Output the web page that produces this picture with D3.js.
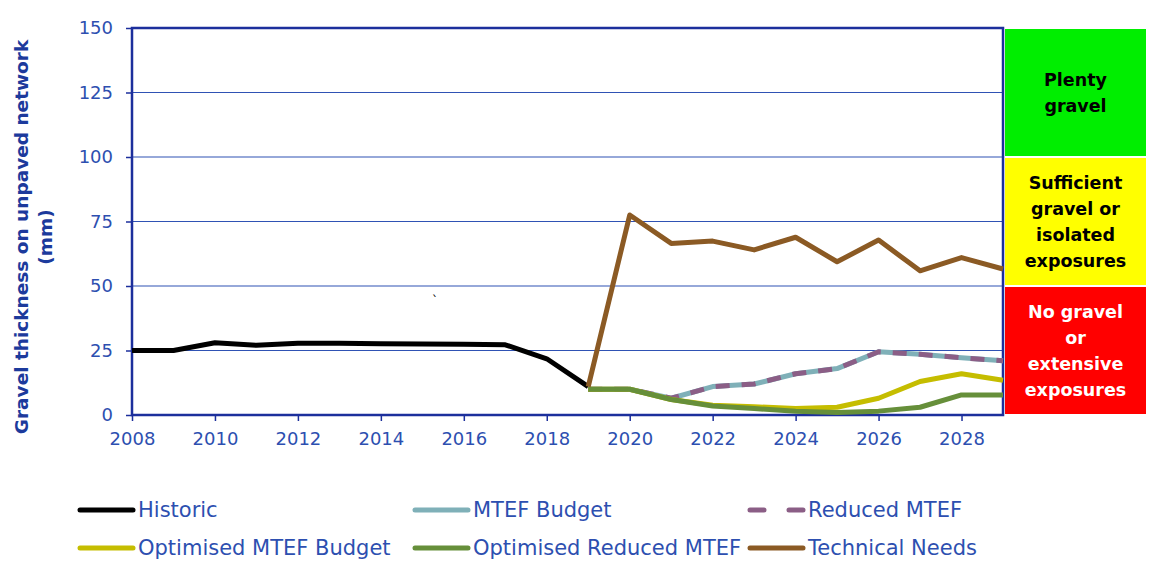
<!DOCTYPE html>
<html>
<head>
<meta charset="utf-8">
<script src="https://cdn.jsdelivr.net/npm/d3@7"></script>
<style>
  body { margin: 0; background: #fff; }
  text { font-family: "DejaVu Sans", sans-serif; }
</style>
</head>
<body>
<script>
// data
var histYears = [2008, 2009, 2010, 2011, 2012, 2013, 2014, 2015, 2016, 2017, 2018, 2019];
var historic = [25, 25, 28, 27, 27.8, 27.8, 27.6, 27.5, 27.4, 27.2, 21.8, 11];

var projYears = [2019, 2020, 2021, 2022, 2023, 2024, 2025, 2026, 2027, 2028, 2029];
var mtefBudget = [10, 10, 6.5, 11, 12, 16, 18, 24.5, 23.5, 22.2, 21];
var reducedMtef = [10, 10, 6.5, 11, 12, 16, 18, 24.5, 23.5, 22.2, 21];
var optMtef = [10, 10, 6, 3.8, 3.2, 2.5, 3, 6.5, 13, 16, 13.5];
var optReduced = [10, 10, 6, 3.5, 2.5, 1.5, 1, 1.5, 3, 7.8, 7.8];
var technical = [11, 77.5, 66.5, 67.4, 64, 68.9, 59.4, 67.8, 55.9, 61, 56.6];

var yTicks = [0, 25, 50, 75, 100, 125, 150];
var xTicks = [2008, 2010, 2012, 2014, 2016, 2018, 2020, 2022, 2024, 2026, 2028];

var bands = [
  {lo: 100, hi: 150, fill: "#00ee00", txt: "#000", lines: ["Plenty", "gravel"]},
  {lo: 50, hi: 100, fill: "#ffff00", txt: "#000", lines: ["Sufficient", "gravel or", "isolated", "exposures"]},
  {lo: 0, hi: 50, fill: "#ff0000", txt: "#fff", lines: ["No gravel", "or", "extensive", "exposures"]}
];

var series = [
  {name: "Historic", years: histYears, vals: historic, color: "#000000"},
  {name: "MTEF Budget", years: projYears, vals: mtefBudget, color: "#7fb0b8"},
  {name: "Reduced MTEF", years: projYears, vals: reducedMtef, color: "#8b5e86", dash: "14,12"},
  {name: "Optimised MTEF Budget", years: projYears, vals: optMtef, color: "#c5bd00"},
  {name: "Optimised Reduced MTEF", years: projYears, vals: optReduced, color: "#668f3a"},
  {name: "Technical Needs", years: projYears, vals: technical, color: "#8b5a24"}
];

var width = 1150, height = 572;
var margin = {top: 28, right: 147, bottom: 157, left: 132};

var svg = d3.select("body").append("svg")
  .attr("width", width)
  .attr("height", height);

var x = d3.scaleLinear()
  .domain([2008, 2029])
  .range([margin.left, width - margin.right]);

var y = d3.scaleLinear()
  .domain([0, 150])
  .range([height - margin.bottom, margin.top]);

var blue = "#1c2f9c";
var tickBlue = "#2d4fb0";

// grid
svg.append("g")
  .selectAll("line").data(yTicks.filter(d => d > 0)).enter().append("line")
    .attr("x1", x(2008)).attr("x2", x(2029))
    .attr("y1", d => y(d)).attr("y2", d => y(d))
    .attr("stroke", "#2f52b4")
    .attr("stroke-width", 1.2);

// axes
var xAxis = g => g
  .attr("transform", `translate(0,${y(0)})`)
  .call(d3.axisBottom(x).tickValues(xTicks).tickFormat(d3.format("d")).tickSize(6).tickSizeOuter(0).tickPadding(11))
  .call(g => g.select(".domain").remove())
  .call(g => g.selectAll("line").attr("stroke", blue).attr("stroke-width", 1.5))
  .call(g => g.selectAll("text").attr("fill", tickBlue).attr("font-size", 18));

var yAxis = g => g
  .attr("transform", `translate(${x(2008)},0)`)
  .call(d3.axisLeft(y).tickValues(yTicks).tickSize(6).tickSizeOuter(0).tickPadding(13))
  .call(g => g.select(".domain").remove())
  .call(g => g.selectAll("line").attr("stroke", blue).attr("stroke-width", 1.5))
  .call(g => g.selectAll("text").attr("fill", tickBlue).attr("font-size", 18));

svg.append("g").call(xAxis);
svg.append("g").call(yAxis);

// frame
svg.append("rect")
  .attr("x", x(2008)).attr("y", y(150))
  .attr("width", x(2029) - x(2008)).attr("height", y(0) - y(150))
  .attr("fill", "none")
  .attr("stroke", blue)
  .attr("stroke-width", 2.5);

// y title
svg.append("text")
  .attr("transform", `translate(28,237) rotate(-90)`)
  .attr("text-anchor", "middle")
  .attr("font-weight", "bold")
  .attr("font-size", 18.5)
  .attr("fill", "#1c3a9c")
  .selectAll("tspan").data(["Gravel thickness on unpaved network", "(mm)"]).enter().append("tspan")
    .attr("x", 0)
    .attr("dy", (d, i) => i === 0 ? 0 : 24)
    .text(d => d);

// lines
var line = d3.line()
  .x(d => x(d[0]))
  .y(d => y(d[1]));

svg.append("g")
  .selectAll("path").data(series).enter().append("path")
    .attr("d", s => line(s.years.map((yr, i) => [yr, s.vals[i]])))
    .attr("fill", "none")
    .attr("stroke", s => s.color)
    .attr("stroke-width", 5)
    .attr("stroke-linejoin", "round")
    .attr("stroke-dasharray", s => s.dash || null);

// stray mark in the original
svg.append("text")
  .attr("x", 432).attr("y", 305)
  .attr("font-size", 12)
  .attr("fill", "#000")
  .text("`");

// gravel bands on the right
var bx = 1005, bw = 141;
var bandG = svg.append("g")
  .selectAll("g").data(bands).enter().append("g");

bandG.append("rect")
  .attr("x", bx)
  .attr("y", d => y(d.hi) + 1)
  .attr("width", bw)
  .attr("height", d => y(d.lo) - y(d.hi) - 2)
  .attr("fill", d => d.fill);

bandG.append("text")
  .attr("text-anchor", "middle")
  .attr("font-weight", "bold")
  .attr("font-size", 17.5)
  .attr("fill", d => d.txt)
  .each(function(d) {
    var mid = (y(d.lo) + y(d.hi)) / 2;
    var lh = 26;
    var start = mid - (d.lines.length - 1) * lh / 2 + 6;
    d3.select(this).selectAll("tspan").data(d.lines).enter().append("tspan")
      .attr("x", bx + bw / 2)
      .attr("y", (t, i) => start + i * lh)
      .text(t => t);
  });

// legend
var legPos = [[80, 510], [415, 510], [750, 510], [80, 548], [415, 548], [750, 548]];
var leg = svg.append("g")
  .selectAll("g").data(series).enter().append("g")
    .attr("transform", (d, i) => `translate(${legPos[i][0]},${legPos[i][1]})`);

leg.append("line")
  .attr("x1", 0).attr("x2", 53)
  .attr("y1", 0).attr("y2", 0)
  .attr("stroke", d => d.color)
  .attr("stroke-width", 5)
  .attr("stroke-linecap", "round")
  .attr("stroke-dasharray", d => d.dash ? "14,25" : null);

leg.append("text")
  .attr("x", 58)
  .attr("y", 7)
  .attr("font-family", "'DejaVu Sans Condensed', 'DejaVu Sans', sans-serif")
  .attr("font-size", 21)
  .attr("fill", tickBlue)
  .text(d => d.name);
</script>
</body>
</html>
